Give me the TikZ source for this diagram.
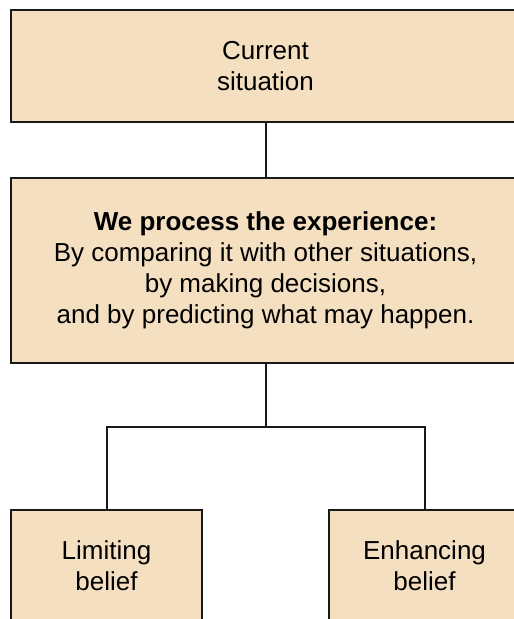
\documentclass[tikz,border=0pt]{standalone}
\usepackage{fontspec}
\setmainfont{Liberation Sans}
\begin{document}
\begin{tikzpicture}[x=1pt,y=-1pt,
  box/.style={draw=black!90, line width=1.9pt, fill=boxfill, inner sep=0pt,
    align=center, font=\fontsize{26}{31}\selectfont},
  link/.style={draw=black!90, line width=2pt}]
\definecolor{boxfill}{HTML}{F4E0C1}
\useasboundingbox (0,0) rectangle (514,619);
\clip (0,0) rectangle (514,619);
\fill[white] (0,0) rectangle (514,619);
% top: the situation
\node[box, minimum width=509pt, minimum height=112pt] (cur) at (265.5,66)
  {Current\\situation};
% middle: processing the experience
\node[box, minimum width=509pt, minimum height=185pt] (proc) at (265.5,270.5)
  {\textbf{We process the experience:}\\
   By comparing it with other situations,\\
   by making decisions,\\
   and by predicting what may happen.};
% bottom: the two kinds of belief
\node[box, minimum width=191pt, minimum height=112pt] (lim) at (106.5,566)
  {Limiting\\belief};
\node[box, minimum width=191pt, minimum height=112pt] (enh) at (424.5,566)
  {Enhancing\\belief};
\coordinate (split) at (265.5,427);
\draw[link] (cur.south) -- (proc.north);
\draw[link] (proc.south) -- (split);
\draw[link] (lim.north) |- (split) -| (enh.north);
\end{tikzpicture}
\end{document}
